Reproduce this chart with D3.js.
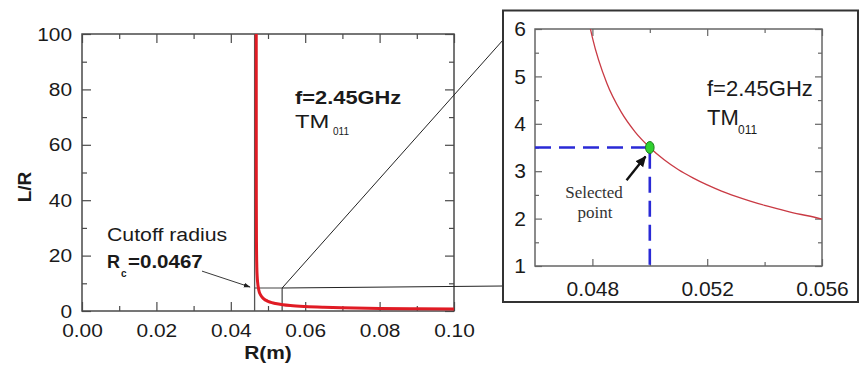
<!DOCTYPE html>
<html><head><meta charset="utf-8">
<script src="https://cdn.jsdelivr.net/npm/d3@7"></script>
<style>body{margin:0;background:#fff} svg{display:block;font-family:"Liberation Sans",Arial,sans-serif}</style>
</head><body><svg id="c" width="860" height="372"></svg>
<script>
// ---- data ----
const mainR  = [0.046838, 0.04684, 0.04685, 0.04686, 0.0469, 0.0470, 0.0471, 0.0472, 0.0475, 0.0480, 0.0485, 0.0490, 0.0495, 0.0500, 0.0510, 0.0520, 0.0540, 0.0560, 0.0600, 0.0650, 0.0700, 0.0800, 0.0900, 0.1000];
const mainLR = [100, 94, 52.3, 40.4, 24.9, 15.6, 12.3, 10.5, 7.7, 5.82, 4.86, 4.25, 3.82, 3.5, 3.03, 2.71, 2.28, 1.99, 1.63, 1.36, 1.18, 0.94, 0.80, 0.69];
const mainXTicks = [0, 0.02, 0.04, 0.06, 0.08, 0.10];
const mainXMinor = [0.01, 0.03, 0.05, 0.07, 0.09];
const mainYTicks = [0, 20, 40, 60, 80, 100];
const mainYMinor = [10, 30, 50, 70, 90];

const zoomR  = [0.0478, 0.0479, 0.0480, 0.0485, 0.0490, 0.0495, 0.0500, 0.0505, 0.0510, 0.0515, 0.0520, 0.0525, 0.0530, 0.0535, 0.0540, 0.0545, 0.0550, 0.0555, 0.0560];
const zoomLR = [6.40, 6.09, 5.82, 4.86, 4.25, 3.82, 3.50, 3.24, 3.03, 2.86, 2.71, 2.58, 2.47, 2.37, 2.28, 2.20, 2.12, 2.06, 1.99];
const zoomXTicks = [0.048, 0.052, 0.056];
const zoomXMinor = [0.050, 0.054];
const zoomYTicks = [1, 2, 3, 4, 5, 6];
const zoomYMinor = [1.5, 2.5, 3.5, 4.5, 5.5];

const selectedR = 0.050, selectedLR = 3.5;
const cutoffR = 0.0464;           // drawn cutoff line
const boxR = [0.0464, 0.0538];    // zoom window on main plot
const boxLR = [0, 8.3];
const mainArrow = [[0.03226, 14.4], [0.04516, 8.66]];
const zoomArrow = [[0.04919, 2.81], [0.04985, 3.31]];

// ---- drawing ----
const svg = d3.select("#c");
svg.append("rect").attr("width", 860).attr("height", 372).attr("fill", "#fff");
const defs = svg.append("defs");

const x = d3.scaleLinear([0, 0.1], [82, 454]);
const y = d3.scaleLinear([0, 100], [311, 34]);
const xz = d3.scaleLinear([0.046, 0.056], [535, 822]);
const yz = d3.scaleLinear([1, 6], [266, 29]);

function frameAxes(g, xs, ys, xt, xm, yt, ym, major, minor, fs, padX, padY, color, sx) {
  const [x0, x1] = xs.range(), [y0, y1] = ys.range();
  const fmtX = d3.format(xs === x ? ".2f" : ".3f");
  const b = g.append("g").attr("transform", `translate(0,${y0})`)
    .call(d3.axisBottom(xs).tickValues(xt).tickSizeInner(-major).tickSizeOuter(0).tickPadding(padX).tickFormat(fmtX));
  b.append("g").call(d3.axisBottom(xs).tickValues(xm).tickSizeInner(-minor).tickSizeOuter(0).tickFormat(""));
  const l = g.append("g").attr("transform", `translate(${x0},0)`)
    .call(d3.axisLeft(ys).tickValues(yt).tickSizeInner(-major).tickSizeOuter(0).tickPadding(padY).tickFormat(d3.format("d")));
  l.append("g").call(d3.axisLeft(ys).tickValues(ym).tickSizeInner(-minor).tickSizeOuter(0).tickFormat(""));
  const t = g.append("g").attr("transform", `translate(0,${y1})`)
    .call(d3.axisTop(xs).tickValues(xt).tickSizeInner(-major).tickSizeOuter(0).tickFormat(""));
  t.append("g").call(d3.axisTop(xs).tickValues(xm).tickSizeInner(-minor).tickSizeOuter(0).tickFormat(""));
  const r = g.append("g").attr("transform", `translate(${x1},0)`)
    .call(d3.axisRight(ys).tickValues(yt).tickSizeInner(-major).tickSizeOuter(0).tickFormat(""));
  r.append("g").call(d3.axisRight(ys).tickValues(ym).tickSizeInner(-minor).tickSizeOuter(0).tickFormat(""));
  g.selectAll(".domain").remove();
  g.selectAll(".tick line").attr("stroke", color).attr("stroke-width", 1.2);
  g.selectAll(".tick text").attr("font-size", fs).attr("fill", "#1a1a1a")
    .attr("font-family", '"Liberation Sans",Arial,sans-serif');
  l.selectAll(".tick text").attr("transform", `scale(${sx},1)`);
  b.selectAll(".tick text").attr("transform", `scale(${sx},1)`);
  g.append("rect").attr("x", x0).attr("y", y1).attr("width", x1 - x0).attr("height", y0 - y1)
    .attr("fill", "none").attr("stroke", color).attr("stroke-width", 1.5);
}

// ---- main plot ----
const gm = svg.append("g");
frameAxes(gm, x, y, mainXTicks, mainXMinor, mainYTicks, mainYMinor, 9, 5, 19, 12.5, 9, "#4a4a4a", 1.1);

defs.append("clipPath").attr("id", "clipMain").append("rect")
  .attr("x", 82).attr("y", 34).attr("width", 372).attr("height", 277);

gm.append("line").attr("x1", x(cutoffR)).attr("x2", x(cutoffR)).attr("y1", y(100)).attr("y2", y(0))
  .attr("stroke", "#555").attr("stroke-width", 1.3);
gm.append("path").attr("d", `M${x(boxR[0])},${y(boxLR[1])}H${x(boxR[1])}V${y(boxLR[0])}`)
  .attr("fill", "none").attr("stroke", "#444").attr("stroke-width", 1.2);

const mainData = mainR.map((r, i) => [r, mainLR[i]]);
gm.append("path").datum(mainData).attr("clip-path", "url(#clipMain)")
  .attr("d", d3.line().x(d => x(d[0])).y(d => y(d[1])).curve(d3.curveMonotoneX))
  .attr("fill", "none").attr("stroke", "#e01b24").attr("stroke-width", 3);

svg.append("line").attr("x1", x(boxR[1])).attr("y1", y(boxLR[1])).attr("x2", 503).attr("y2", 286)
  .attr("stroke", "#222").attr("stroke-width", 1);
svg.append("line").attr("x1", x(boxR[1])).attr("y1", y(boxLR[1])).attr("x2", 503).attr("y2", 40)
  .attr("stroke", "#222").attr("stroke-width", 1);

defs.append("marker").attr("id", "ah").attr("viewBox", "0 0 10 10").attr("refX", 9).attr("refY", 5)
  .attr("markerWidth", 7).attr("markerHeight", 7).attr("markerUnits", "userSpaceOnUse").attr("orient", "auto")
  .append("path").attr("d", "M0,1.5L10,5L0,8.5Z").attr("fill", "#222");
defs.append("marker").attr("id", "ah2").attr("viewBox", "0 0 10 10").attr("refX", 9).attr("refY", 5)
  .attr("markerWidth", 11).attr("markerHeight", 11).attr("markerUnits", "userSpaceOnUse").attr("orient", "auto")
  .append("path").attr("d", "M0,0.5L10,5L0,9.5Z").attr("fill", "#111");

gm.append("line").attr("x1", x(mainArrow[0][0])).attr("y1", y(mainArrow[0][1]))
  .attr("x2", x(mainArrow[1][0])).attr("y2", y(mainArrow[1][1]))
  .attr("stroke", "#222").attr("stroke-width", 0.9).attr("marker-end", "url(#ah)");

function label(g, px, py, str, o = {}) {
  return g.append("text").attr("transform", `translate(${px},${py}) scale(${o.sx || 1},1)`)
    .attr("font-size", o.fs || 19).attr("font-weight", o.bold ? "bold" : "normal")
    .attr("font-family", o.serif ? '"Liberation Serif","Times New Roman",serif' : '"Liberation Sans",Arial,sans-serif')
    .attr("text-anchor", o.anchor || "start").attr("fill", o.fill || "#1a1a1a").text(str);
}

label(gm, 107, 241, "Cutoff radius", {sx: 1.12});
label(gm, 107, 268, "R", {bold: true, fs: 18});
label(gm, 121, 277, "c", {bold: true, fs: 10});
label(gm, 128, 268, "=0.0467", {bold: true, sx: 1.08});
label(gm, 295, 104, "f=2.45GHz", {bold: true, sx: 1.15});
label(gm, 295, 128, "TM", {fs: 19, sx: 1.25});
label(gm, 333, 135, "011", {fs: 10});

svg.append("text").attr("transform", "translate(31,187) rotate(-90)").attr("text-anchor", "middle")
  .attr("font-size", 19).attr("font-weight", "bold").attr("fill", "#1a1a1a").text("L/R");
label(svg, 268, 359, "R(m)", {bold: true, anchor: "middle", sx: 1.1});

// ---- inset ----
svg.append("rect").attr("x", 503).attr("y", 10.5).attr("width", 355).attr("height", 291.5)
  .attr("fill", "#fff").attr("stroke", "#333").attr("stroke-width", 2);
const gz = svg.append("g");
frameAxes(gz, xz, yz, zoomXTicks, zoomXMinor, zoomYTicks, zoomYMinor, 7, 4, 21, 15, 9, "#666", 1.0);

defs.append("clipPath").attr("id", "clipZoom").append("rect")
  .attr("x", 535).attr("y", 29).attr("width", 287).attr("height", 237);

const zoomData = zoomR.map((r, i) => [r, zoomLR[i]]);
gz.append("path").datum(zoomData).attr("clip-path", "url(#clipZoom)")
  .attr("d", d3.line().x(d => xz(d[0])).y(d => yz(d[1])).curve(d3.curveMonotoneX))
  .attr("fill", "none").attr("stroke", "#c93a44").attr("stroke-width", 1.3);

gz.append("path").attr("d", `M${xz(0.046)},${yz(selectedLR)}H${xz(selectedR)}V${yz(1)}`)
  .attr("fill", "none").attr("stroke", "#2a2ad6").attr("stroke-width", 2.6).attr("stroke-dasharray", "16,8");

gz.append("ellipse").attr("cx", xz(selectedR)).attr("cy", yz(selectedLR)).attr("rx", 4.3).attr("ry", 6)
  .attr("fill", "#2fd12f").attr("stroke", "#1d7a1d").attr("stroke-width", 1);

gz.append("line").attr("x1", xz(zoomArrow[0][0])).attr("y1", yz(zoomArrow[0][1]))
  .attr("x2", xz(zoomArrow[1][0])).attr("y2", yz(zoomArrow[1][1]))
  .attr("stroke", "#111").attr("stroke-width", 2.4).attr("marker-end", "url(#ah2)");

label(gz, 594, 198, "Selected", {serif: true, fs: 17, anchor: "middle", fill: "#333"});
label(gz, 595, 218, "point", {serif: true, fs: 17, anchor: "middle", fill: "#333"});

label(gz, 707, 96, "f=2.45GHz", {fs: 22});
label(gz, 707, 125, "TM", {fs: 22});
label(gz, 738, 134, "011", {fs: 12});
</script></body></html>
